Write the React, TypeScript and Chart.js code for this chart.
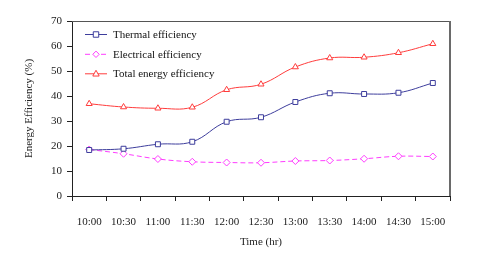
import React, { useEffect, useRef } from "react";
import { Chart, registerables } from "chart.js";

Chart.register(...registerables);

const categories = ["10:00", "10:30", "11:00", "11:30", "12:00", "12:30", "13:00", "13:30", "14:00", "14:30", "15:00"];
const thermal = [18.4, 18.9, 20.7, 21.7, 29.7, 31.5, 37.6, 41.1, 40.8, 41.3, 45.2];
const electrical = [18.6, 16.9, 14.8, 13.7, 13.4, 13.3, 14.0, 14.2, 14.9, 15.9, 15.8];
const total = [36.9, 35.6, 35.1, 35.5, 42.5, 44.7, 51.6, 55.2, 55.5, 57.3, 60.9];
const seriesNames = ["Thermal efficiency", "Electrical efficiency", "Total energy efficiency"];
const yTitle = "Energy Efficiency (%)";
const xTitle = "Time (hr)";

const COLORS = ["#3d3d9c", "#ff3cff", "#ff3c3c"];
const STYLES = ["rect", "rectRot", "triangle"];
const SERIF = "'Liberation Serif', 'Times New Roman', serif";

function marker(ctx: CanvasRenderingContext2D, style: string, x: number, y: number, r: number) {
  ctx.beginPath();
  if (style === "rect") {
    ctx.rect(x - r * 0.85, y - r * 0.85, r * 1.7, r * 1.7);
  } else if (style === "rectRot") {
    ctx.moveTo(x, y - r);
    ctx.lineTo(x + r, y);
    ctx.lineTo(x, y + r);
    ctx.lineTo(x - r, y);
    ctx.closePath();
  } else {
    ctx.moveTo(x, y - r * 1.1);
    ctx.lineTo(x + r, y + r * 0.7);
    ctx.lineTo(x - r, y + r * 0.7);
    ctx.closePath();
  }
  ctx.fillStyle = "#fff";
  ctx.fill();
  ctx.stroke();
}

const legendPlugin = {
  id: "customLegend",
  afterDraw(chart: any) {
    const ctx: CanvasRenderingContext2D = chart.ctx;
    const a = chart.chartArea;
    ctx.save();
    ctx.globalAlpha = 1;
    ctx.setLineDash([]);
    ctx.strokeStyle = "#555555";
    ctx.lineWidth = 1;
    ctx.beginPath();
    ctx.moveTo(a.left, Math.floor(a.top) + 0.5);
    ctx.lineTo(a.right, Math.floor(a.top) + 0.5);
    ctx.stroke();
    ctx.strokeStyle = "#6a6a6a";
    ctx.lineWidth = 2;
    ctx.beginPath();
    ctx.moveTo(Math.round(a.right), a.top);
    ctx.lineTo(Math.round(a.right), a.bottom);
    ctx.stroke();
    const rows = [34.5, 54.3, 73.8];
    seriesNames.forEach((name, i) => {
      const y = rows[i];
      ctx.strokeStyle = COLORS[i];
      ctx.lineWidth = 1;
      ctx.setLineDash(i === 1 ? [5, 3] : []);
      ctx.beginPath();
      ctx.moveTo(85, y);
      ctx.lineTo(107, y);
      ctx.stroke();
      ctx.setLineDash([]);
      marker(ctx, STYLES[i], 96, y, 3.2);
      ctx.fillStyle = "#111";
      ctx.font = `11px ${SERIF}`;
      ctx.textBaseline = "middle";
      ctx.textAlign = "left";
      ctx.fillText(name, 113, y + 0.5);
    });
    ctx.restore();
  },
};

export default function App() {
  const ref = useRef<HTMLCanvasElement | null>(null);
  useEffect(() => {
    document.body.style.margin = "0";
    const values = [thermal, electrical, total];
    const chart = new Chart(ref.current as HTMLCanvasElement, {
      type: "line",
      data: {
        labels: categories,
        datasets: seriesNames.map((name, i) => ({
          label: name,
          data: values[i],
          borderColor: COLORS[i],
          backgroundColor: "#ffffff",
          borderWidth: 1,
          borderDash: i === 1 ? [5, 3] : [],
          pointStyle: STYLES[i] as any,
          pointRadius: 3.5,
          pointBorderWidth: 1,
          tension: 0.4,
          fill: false,
        })),
      },
      options: {
        responsive: false,
        animation: false,
        layout: { padding: { left: 0, right: 30, top: 21, bottom: 0 } },
        plugins: { legend: { display: false }, tooltip: { enabled: false } },
        scales: {
          x: {
            offset: true,
            grid: { display: true, drawOnChartArea: false, offset: true, tickLength: 5, color: "#222" },
            border: { display: true, color: "#222", width: 1 },
            ticks: { color: "#222", font: { family: SERIF, size: 11 }, padding: 15, maxRotation: 0, autoSkip: false },
            title: { display: true, text: xTitle, color: "#222", font: { family: SERIF, size: 11 }, padding: { top: 0, bottom: 13 } },
            afterFit(scale: any) { scale.height = 66; },
          },
          y: {
            min: 0,
            max: 70,
            ticks: { stepSize: 10, color: "#222", font: { family: SERIF, size: 11 }, padding: 5 },
            grid: { display: true, drawOnChartArea: false, tickLength: 5, color: "#222" },
            border: { display: true, color: "#222", width: 1 },
            title: { display: true, text: yTitle, color: "#222", font: { family: SERIF, size: 11 }, padding: { top: 23, bottom: 0 } },
            afterFit(scale: any) { scale.width = 72; },
          },
        },
      },
      plugins: [legendPlugin],
    });
    return () => chart.destroy();
  }, []);
  return (
    <div style={{ width: 480, height: 262 }}>
      <canvas ref={ref} width={480} height={262} style={{ display: "block" }} />
    </div>
  );
}
